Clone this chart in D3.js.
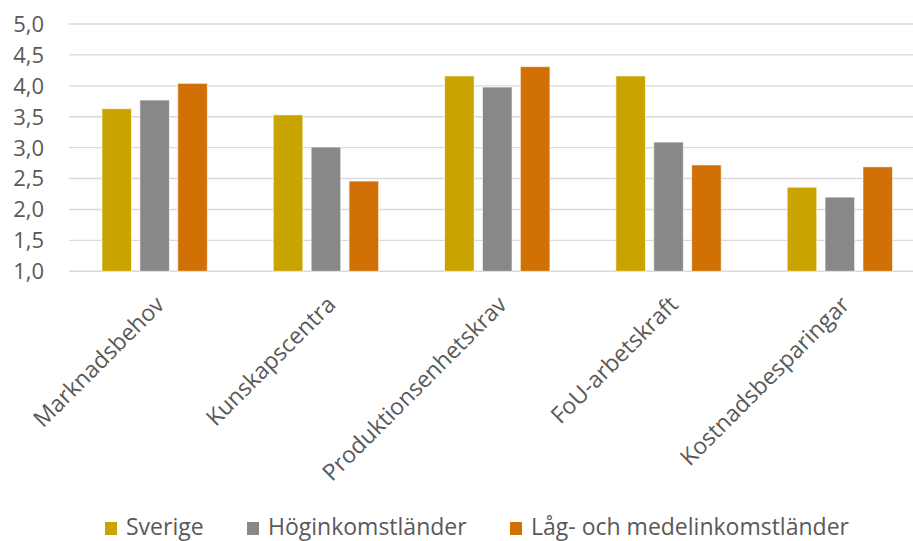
<!DOCTYPE html>
<html>
<head>
<meta charset="utf-8">
<script src="https://cdn.jsdelivr.net/npm/d3@7"></script>
<style>
  html, body { margin: 0; padding: 0; background: #ffffff; }
  svg { display: block; }
  text { font-family: "Open Sans", "Noto Sans", sans-serif; fill: #595959; }
</style>
</head>
<body>
<svg id="chart" width="913" height="541"></svg>
<script>
const categories = ["Marknadsbehov", "Kunskapscentra", "Produktionsenhetskrav", "FoU-arbetskraft", "Kostnadsbesparingar"];
const seriesNames = ["Sverige", "Höginkomstländer", "Låg- och medelinkomstländer"];
const sverige = [3.63, 3.53, 4.16, 4.16, 2.36];
const hoginkomst = [3.77, 3.01, 3.98, 3.09, 2.20];
const lagMedel = [4.04, 2.46, 4.31, 2.72, 2.69];
const yTicks = [1.0, 1.5, 2.0, 2.5, 3.0, 3.5, 4.0, 4.5, 5.0];
const colors = ["#C9A400", "#888888", "#D17105"];

const seriesValues = [sverige, hoginkomst, lagMedel];

const svg = d3.select("#chart");

const y = d3.scaleLinear().domain([1, 5]).range([271.3, 24]);
const x0 = d3.scaleBand().domain(categories).range([69, 925.5]).paddingInner(0).paddingOuter(0);
const groupW = x0.bandwidth() * 0.615;
const groupOff = (x0.bandwidth() - groupW) / 2;
const x1 = d3.scaleBand().domain(seriesNames).range([0, groupW]).paddingInner(0.22).paddingOuter(0);

// gridlines
svg.append("g")
  .selectAll("line")
  .data(yTicks)
  .join("line")
  .attr("x1", 69)
  .attr("x2", 925)
  .attr("y1", d => y(d))
  .attr("y2", d => y(d))
  .attr("stroke", "#D9D9D9")
  .attr("stroke-width", 1.4);

// y axis labels
const fmt = d => d.toFixed(1).replace(".", ",");
svg.append("g")
  .selectAll("text")
  .data(yTicks)
  .join("text")
  .attr("x", 44)
  .attr("y", d => y(d))
  .attr("dy", "0.36em")
  .attr("text-anchor", "end")
  .attr("font-size", 22)
  .text(fmt);

// bars
const groups = svg.append("g")
  .selectAll("g")
  .data(categories)
  .join("g")
  .attr("transform", d => `translate(${x0(d) + groupOff},0)`);

groups.selectAll("rect")
  .data((c, i) => seriesNames.map((s, j) => ({ s, j, v: seriesValues[j][i] })))
  .join("rect")
  .attr("x", d => x1(d.s))
  .attr("width", x1.bandwidth())
  .attr("y", d => y(d.v))
  .attr("height", d => y(1) - y(d.v))
  .attr("fill", d => colors[d.j])
  .attr("stroke", "#ffffff")
  .attr("stroke-opacity", 0.6)
  .attr("stroke-width", 1);

// category labels
svg.append("g")
  .selectAll("text")
  .data(categories)
  .join("text")
  .attr("transform", d => `translate(${x0(d) + x0.bandwidth() / 2 + 11},${306}) rotate(-45)`)
  .attr("text-anchor", "end")
  .attr("font-size", 23)
  .text(d => d);

// legend
const legendX = [105, 247, 510];
const leg = svg.append("g")
  .selectAll("g")
  .data(seriesNames)
  .join("g")
  .attr("transform", (d, i) => `translate(${legendX[i]},0)`);
leg.append("rect")
  .attr("x", 0)
  .attr("y", 522)
  .attr("width", 12)
  .attr("height", 13)
  .attr("fill", (d, i) => colors[i]);
leg.append("text")
  .attr("x", 21)
  .attr("y", 535)
  .attr("font-size", 23)
  .text(d => d);
</script>
</body>
</html>
